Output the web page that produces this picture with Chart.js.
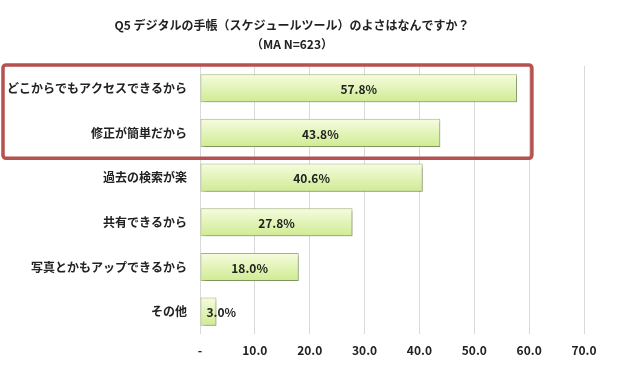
<!DOCTYPE html>
<html>
<head>
<meta charset="utf-8">
<script src="https://cdn.jsdelivr.net/npm/chart.js@4"></script>
<style>
  html, body { margin: 0; padding: 0; background: #fff; }
  #wrap { width: 627px; height: 388px; }
</style>
</head>
<body>
<div id="wrap"><canvas id="myChart" width="627" height="388"></canvas></div>
<script>
const titleLines = ['Q5 デジタルの手帳（スケジュールツール）のよさはなんですか？', '（MA N=623）'];
const categories = [
  'どこからでもアクセスできるから',
  '修正が簡単だから',
  '過去の検索が楽',
  '共有できるから',
  '写真とかもアップできるから',
  'その他'
];
const values = [57.8, 43.8, 40.6, 27.8, 18.0, 3.0];
const highlighted = [0, 1]; // categories inside the red box
const xMax = 70;

const FONT = '"Noto Sans CJK JP", "Noto Sans", sans-serif';

// soft shadow under the bars
const barShadow = {
  id: 'barShadow',
  beforeDatasetsDraw(chart) {
    const ctx = chart.ctx;
    ctx.save();
    ctx.shadowColor = 'rgba(0,0,0,0.28)';
    ctx.shadowBlur = 3;
    ctx.shadowOffsetX = 2;
    ctx.shadowOffsetY = 2;
  },
  afterDatasetsDraw(chart) {
    chart.ctx.restore();
  }
};

// value labels on the bars
const barLabels = {
  id: 'barLabels',
  afterDatasetsDraw(chart) {
    const ctx = chart.ctx;
    const meta = chart.getDatasetMeta(0);
    ctx.save();
    ctx.font = 'bold 12px ' + FONT;
    ctx.fillStyle = '#222';
    ctx.textBaseline = 'middle';
    meta.data.forEach((bar, i) => {
      const txt = values[i].toFixed(1) + '%';
      const w = ctx.measureText(txt).width;
      const len = bar.x - bar.base;
      if (w + 10 > len) {
        ctx.textAlign = 'left';
        ctx.fillText(txt, bar.base + 6, bar.y + 1);
      } else {
        ctx.textAlign = 'center';
        ctx.fillText(txt, (bar.x + bar.base) / 2, bar.y + 1);
      }
    });
    ctx.restore();
  }
};

// red frame around the highlighted categories
const redFrame = {
  id: 'redFrame',
  afterDraw(chart) {
    const y = chart.scales.y;
    const x = chart.scales.x;
    const step = y.getPixelForValue(1) - y.getPixelForValue(0);
    const top = y.getPixelForValue(highlighted[0]) - step / 2 - 1;
    const bottom = y.getPixelForValue(highlighted[highlighted.length - 1]) + step / 2 + 3;
    const left = 3;
    const right = x.getPixelForValue(60.5);
    const ctx = chart.ctx;
    ctx.save();
    ctx.strokeStyle = '#b5514e';
    ctx.lineWidth = 3.5;
    ctx.beginPath();
    ctx.roundRect(left, top, right - left, bottom - top, 3);
    ctx.stroke();
    ctx.restore();
  }
};

const ctx = document.getElementById('myChart').getContext('2d');
const myChart = new Chart(ctx, {
  type: 'bar',
  data: {
    labels: categories,
    datasets: [
      {
        data: values,
        backgroundColor: (c) => {
          const chart = c.chart;
          if (!chart.chartArea || !chart.scales.y || c.dataIndex === undefined) return '#e4f5b8';
          const yc = chart.scales.y.getPixelForValue(c.dataIndex);
          const h = 14;
          const g = chart.ctx.createLinearGradient(0, yc - h, 0, yc + h);
          g.addColorStop(0, '#f6fcdf');
          g.addColorStop(1, '#cfeb92');
          return g;
        },
        borderColor: '#a2b878',
        borderWidth: 1,
        borderSkipped: false,
        barPercentage: 0.7,
        categoryPercentage: 0.9
      }
    ]
  },
  options: {
    indexAxis: 'y',
    responsive: false,
    animation: false,
    layout: { padding: { left: 0, right: 43, top: 0, bottom: 0 } },
    plugins: {
      legend: { display: false },
      tooltip: { enabled: false },
      title: {
        display: true,
        text: titleLines,
        color: '#222',
        font: { family: FONT, size: 12, weight: 'bold', lineHeight: 1.58 },
        padding: { top: 16, bottom: 12 }
      }
    },
    scales: {
      x: {
        min: 0,
        max: xMax,
        ticks: {
          stepSize: 10,
          padding: 9,
          color: '#222',
          font: { family: FONT, size: 12, weight: 'bold' },
          callback: (v) => (v === 0 ? '-' : v.toFixed(1))
        },
        grid: { color: '#d9d9d9', drawTicks: false },
        border: { display: false },
        afterFit: (s) => { s.height = 54; }
      },
      y: {
        ticks: {
          padding: 5,
          color: '#222',
          font: { family: FONT, size: 12, weight: 'bold' }
        },
        grid: { display: false },
        border: { display: false },
        afterFit: (s) => { s.width = 200; }
      }
    }
  },
  plugins: [barShadow, barLabels, redFrame]
});
</script>
</body>
</html>
